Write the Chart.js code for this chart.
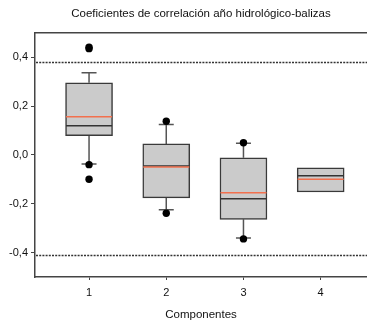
<!DOCTYPE html>
<html>
<head>
<meta charset="utf-8">
<script src="https://cdn.jsdelivr.net/npm/chart.js@4/dist/chart.umd.min.js"></script>
<style>
  html, body { margin: 0; padding: 0; background: #fff; overflow: hidden; }
  #wrap { width: 367px; height: 322px; position: relative; overflow: hidden; }
  canvas { display: block; }
</style>
</head>
<body>
<div id="wrap"><canvas id="c" width="367" height="322"></canvas></div>
<script>
// Componentes (posición en el eje x)
const components = [1, 2, 3, 4];
// Cuartiles, mediana, media y bigotes de cada componente
const q1 = [0.079, -0.176, -0.264, -0.152];
const q3 = [0.295, 0.045, -0.012, -0.053];
const medians = [0.119, -0.045, -0.180, -0.085];
const means = [0.156, -0.050, -0.155, -0.100];
const whiskerLow = [-0.037, -0.225, -0.340, -0.152];
const whiskerHigh = [0.336, 0.124, 0.048, -0.053];
// Valores atípicos
const outliers = [
  [0.435, 0.441, -0.040, -0.100],
  [0.138, -0.239],
  [0.050, -0.344],
  []
];
// Umbrales de significación
const upperLimit = 0.378;
const lowerLimit = -0.412;
const xTicks = [1, 2, 3, 4];
const yTicks = [-0.4, -0.2, 0.0, 0.2, 0.4];
const xRange = [0.3, 4.6];
const yRange = [-0.5, 0.5];

const FONT = 'Liberation Sans, Arial, sans-serif';

const boxData = components.map((c, i) => ({ x: c, y: [q1[i], q3[i]] }));

// Umbrales, bigotes, mediana, media y atípicos dibujados sobre las escalas
const boxExtras = {
  id: 'boxExtras',
  beforeDatasetsDraw(chart) {
    const { ctx, chartArea, scales: { x, y } } = chart;
    ctx.save();
    // líneas de umbral punteadas
    ctx.strokeStyle = '#333';
    ctx.lineWidth = 1.5;
    ctx.setLineDash([2, 1.2]);
    [upperLimit, lowerLimit].forEach(v => {
      const py = y.getPixelForValue(v);
      ctx.beginPath();
      ctx.moveTo(chartArea.left + 1, py);
      ctx.lineTo(chartArea.right, py);
      ctx.stroke();
    });
    ctx.setLineDash([]);
    // bigotes
    ctx.strokeStyle = '#555';
    components.forEach((c, i) => {
      const px = x.getPixelForValue(c);
      const capHalf = 7.5;
      [[q3[i], whiskerHigh[i]], [q1[i], whiskerLow[i]]].forEach(([from, to]) => {
        if (from === to) return;
        ctx.beginPath();
        ctx.moveTo(px, y.getPixelForValue(from));
        ctx.lineTo(px, y.getPixelForValue(to));
        ctx.moveTo(px - capHalf, y.getPixelForValue(to));
        ctx.lineTo(px + capHalf, y.getPixelForValue(to));
        ctx.stroke();
      });
    });
    ctx.restore();
  },
  afterDatasetsDraw(chart) {
    const { ctx, scales: { x, y } } = chart;
    const half = 23;
    ctx.save();
    components.forEach((c, i) => {
      const px = x.getPixelForValue(c);
      ctx.lineWidth = 1.5;
      ctx.strokeStyle = '#333';
      ctx.beginPath();
      ctx.moveTo(px - half, y.getPixelForValue(medians[i]));
      ctx.lineTo(px + half, y.getPixelForValue(medians[i]));
      ctx.stroke();
      ctx.strokeStyle = '#f2704e';
      ctx.beginPath();
      ctx.moveTo(px - half, y.getPixelForValue(means[i]));
      ctx.lineTo(px + half, y.getPixelForValue(means[i]));
      ctx.stroke();
      // atípicos
      ctx.fillStyle = '#000';
      outliers[i].forEach(v => {
        ctx.beginPath();
        ctx.arc(px, y.getPixelForValue(v), 3.7, 0, Math.PI * 2);
        ctx.fill();
      });
    });
    ctx.restore();
  },
  afterDraw(chart) {
    // línea superior del marco
    const { ctx, chartArea } = chart;
    ctx.save();
    ctx.strokeStyle = '#444';
    ctx.lineWidth = 1.5;
    ctx.beginPath();
    ctx.moveTo(chartArea.left, chartArea.top);
    ctx.lineTo(chartArea.right, chartArea.top);
    ctx.stroke();
    ctx.restore();
  }
};

new Chart(document.getElementById('c'), {
  type: 'bar',
  data: {
    datasets: [
      {
        type: 'bar',
        data: boxData,
        backgroundColor: '#cbcbcb',
        borderColor: '#3a3a3a',
        borderWidth: 1.5,
        borderSkipped: false,
        barThickness: 47
      }
    ]
  },
  options: {
    responsive: false,
    animation: false,
    layout: { padding: 0 },
    plugins: {
      legend: { display: false },
      tooltip: { enabled: false },
      title: {
        display: true,
        fullSize: false,
        text: 'Coeficientes de correlación año hidrológico-balizas',
        color: '#111',
        font: { family: FONT, size: 11.5, weight: 'normal' },
        padding: { top: 7, bottom: 12 }
      }
    },
    scales: {
      x: {
        type: 'linear',
        min: xRange[0],
        max: xRange[1],
        offset: false,
        afterBuildTicks(s) { s.ticks = xTicks.map(v => ({ value: v })); },
        afterFit(s) { s.height = 45; s.paddingRight = 0; s.paddingLeft = 0; },
        ticks: {
          color: '#111',
          font: { family: FONT, size: 11 },
          padding: 6,
          callback: v => String(v)
        },
        grid: { offset: false, drawOnChartArea: false, drawTicks: true, tickLength: 3, color: '#444', lineWidth: 1 },
        border: { color: '#444', width: 1.5 },
        title: {
          display: true,
          text: 'Componentes',
          color: '#111',
          font: { family: FONT, size: 11.5 },
          padding: { top: 11, bottom: 0 }
        }
      },
      y: {
        min: yRange[0],
        max: yRange[1],
        afterBuildTicks(s) { s.ticks = yTicks.map(v => ({ value: v })); },
        afterFit(s) { s.width = 35; },
        ticks: {
          color: '#111',
          font: { family: FONT, size: 11 },
          padding: 3,
          callback: v => v.toFixed(1).replace('.', ',').replace('-0,0', '0,0')
        },
        grid: { drawOnChartArea: false, drawTicks: true, tickLength: 4, color: '#444', lineWidth: 1 },
        border: { color: '#444', width: 1.5 }
      }
    }
  },
  plugins: [boxExtras]
});
</script>
</body>
</html>
